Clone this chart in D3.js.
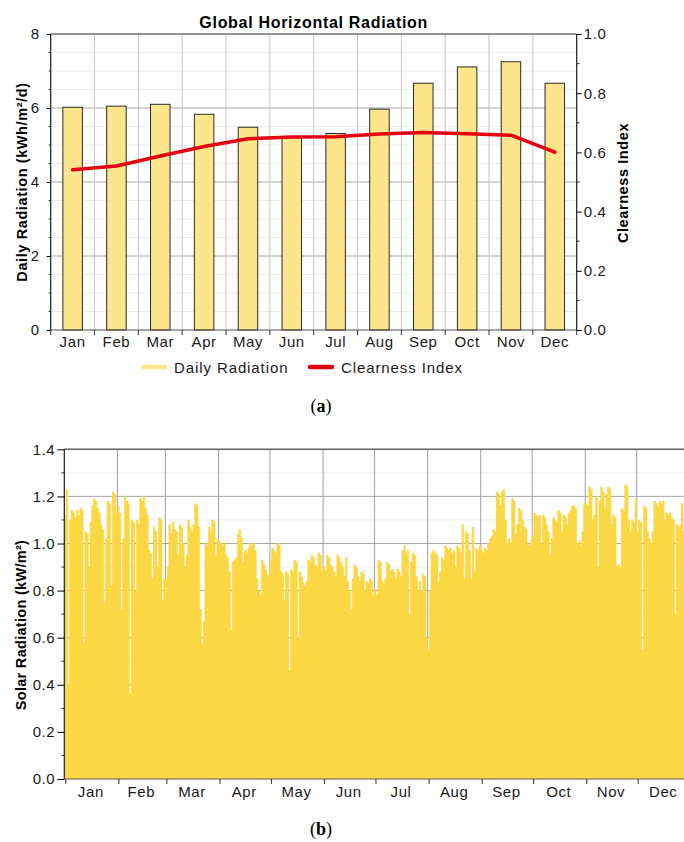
<!DOCTYPE html>
<html>
<head>
<meta charset="utf-8">
<script src="https://cdn.jsdelivr.net/npm/d3@7"></script>
<style>
  body { margin: 0; background: #fff; }
  svg { display: block; font-family: "Liberation Sans", Arial, sans-serif; }
  .tick text { font-size: 15px; fill: #1a1a1a; letter-spacing: 0.6px; }
  .domain { display: none; }
</style>
</head>
<body>
<div class="svg-container"></div>
<script>
var width = 684;
var height = 842;

// chart (a): monthly values
var months = ["Jan", "Feb", "Mar", "Apr", "May", "Jun", "Jul", "Aug", "Sep", "Oct", "Nov", "Dec"];
var dailyRadiation = [6.02, 6.05, 6.10, 5.83, 5.48, 5.20, 5.31, 5.97, 6.67, 7.11, 7.25, 6.67];
var clearnessIndex = [0.541, 0.554, 0.588, 0.620, 0.646, 0.652, 0.653, 0.662, 0.667, 0.663, 0.658, 0.601];
var legendLabels = ["Daily Radiation", "Clearness Index"];

// chart (b): daily peak solar radiation (kW/m2), read per month
var peakJan = [1.12, 1.23, 0.40, 1.10, 1.14, 1.13, 1.11, 1.14, 1.12, 1.15, 1.14, 0.58, 1.05, 1.04, 0.90, 1.09,
               1.16, 1.19, 1.18, 1.15, 1.13, 1.08, 1.06, 0.75, 1.02, 1.18, 1.17, 0.82, 1.22, 1.21, 1.13];
var peakFeb = [1.16, 1.13, 0.72, 1.02, 1.20, 1.18, 1.17, 0.36, 1.10, 1.09, 0.80, 1.10, 1.08, 1.19,
               1.18, 1.20, 1.15, 1.12, 0.97, 0.96, 0.85, 1.07, 1.05, 0.90, 1.11, 1.10, 0.76, 0.85];
var peakMar = [0.85, 0.90, 1.08, 1.04, 1.09, 1.06, 1.05, 0.95, 1.08, 1.07, 1.00, 0.90, 0.95, 1.10, 1.07, 1.05,
               1.08, 1.17, 1.16, 1.07, 0.72, 0.57, 0.67, 1.00, 0.99, 1.07, 1.05, 1.10, 1.09, 0.95, 1.02];
var peakApr = [1.01, 1.00, 0.99, 1.00, 0.95, 0.94, 0.88, 0.63, 0.92, 0.93, 0.94, 1.04, 1.06, 1.02, 0.92,
               0.97, 0.96, 0.98, 1.00, 0.99, 1.00, 0.97, 0.85, 0.80, 0.78, 0.93, 0.91, 0.89, 0.87, 0.86];
var peakMay = [0.93, 0.98, 0.97, 0.96, 1.00, 0.99, 0.88, 0.87, 0.76, 0.88, 0.87, 0.46, 0.89, 0.88, 0.93, 0.92,
               0.60, 0.88, 0.86, 0.83, 0.82, 0.84, 0.93, 0.92, 0.95, 0.94, 0.91, 0.90, 0.96, 0.95, 0.88];
var peakJun = [0.90, 0.89, 0.95, 0.94, 0.91, 0.90, 0.88, 0.86, 0.95, 0.94, 0.92, 0.90, 0.86, 0.94, 0.84,
               0.80, 0.72, 0.85, 0.91, 0.90, 0.86, 0.84, 0.88, 0.87, 0.80, 0.84, 0.83, 0.85, 0.84, 0.78];
var peakJul = [0.80, 0.78, 0.93, 0.92, 0.84, 0.83, 0.85, 0.92, 0.91, 0.88, 0.89, 0.88, 0.85, 0.89, 0.88, 0.86,
               0.97, 0.99, 0.96, 0.97, 0.70, 0.92, 0.96, 0.95, 0.86, 0.80, 0.84, 0.80, 0.87, 0.86, 0.60];
var peakAug = [0.55, 0.80, 0.96, 0.97, 0.96, 0.95, 0.84, 0.88, 0.94, 0.93, 0.99, 0.98, 0.97, 0.98, 0.96, 0.97,
               0.90, 0.99, 0.98, 0.96, 1.08, 0.85, 1.05, 1.04, 0.97, 0.85, 1.07, 0.88, 0.98, 0.97, 0.99];
var peakSep = [0.97, 0.96, 0.98, 0.97, 1.00, 1.02, 1.03, 1.06, 1.05, 1.22, 1.21, 1.16, 1.22, 1.23, 1.10,
               1.00, 1.02, 1.00, 1.19, 1.18, 1.04, 1.08, 1.15, 1.14, 1.10, 1.07, 1.06, 1.00, 0.99, 1.01];
var peakOct = [1.03, 1.13, 1.12, 1.11, 1.12, 1.00, 1.12, 1.11, 1.08, 1.05, 0.95, 1.02, 1.11, 1.10, 1.09, 1.14,
               1.13, 1.05, 1.12, 1.11, 1.08, 1.13, 1.14, 1.16, 1.16, 1.15, 1.00, 1.01, 0.99, 1.05, 1.17];
var peakNov = [1.17, 1.16, 1.24, 1.23, 1.10, 1.12, 1.20, 0.90, 1.18, 1.24, 1.22, 1.15, 1.21, 1.24, 1.23,
               1.08, 1.12, 1.11, 0.90, 0.91, 0.90, 1.15, 1.14, 1.25, 1.24, 1.10, 1.05, 1.10, 1.09, 1.19];
var peakDec = [1.05, 1.10, 1.09, 0.55, 1.16, 1.15, 1.05, 1.02, 1.00, 1.05, 1.18, 1.17, 1.16, 1.18, 1.17, 1.18,
               1.10, 1.13, 1.12, 1.13, 1.11, 1.10, 0.70, 1.08, 1.07, 1.08, 1.17, 1.05, 1.10, 1.12, 1.10];

var yearStart = new Date(2019, 0, 1);
var yearEnd = new Date(2020, 0, 1);

var svg = d3.select(".svg-container")
            .append("svg")
            .attr("width", width)
            .attr("height", height);

// ---------------- chart (a) ----------------
var pa = { left: 50.7, right: 576.7, top: 34, bottom: 330 };

var xa = d3.scaleBand().domain(months).range([pa.left, pa.right]);
var ya = d3.scaleLinear().domain([0, 8]).range([pa.bottom, pa.top]);
var yaR = d3.scaleLinear().domain([0, 1]).range([pa.bottom, pa.top]);

var ga = svg.append("g");

// minor horizontal grid
ga.selectAll(".minor-h")
  .data(d3.range(0.5, 8, 0.5).filter(function(v) { return v % 2 != 0; }))
  .enter().append("line")
  .attr("x1", pa.left).attr("x2", pa.right)
  .attr("y1", function(d) { return ya(d); })
  .attr("y2", function(d) { return ya(d); })
  .attr("stroke", "#ececec").attr("stroke-width", 1);

// major horizontal grid
ga.selectAll(".major-h")
  .data([2, 4, 6])
  .enter().append("line")
  .attr("x1", pa.left).attr("x2", pa.right)
  .attr("y1", function(d) { return ya(d); })
  .attr("y2", function(d) { return ya(d); })
  .attr("stroke", "#a8a8a8").attr("stroke-width", 1);

// vertical grid at month boundaries
ga.selectAll(".grid-v")
  .data(months.slice(1))
  .enter().append("line")
  .attr("x1", function(d) { return xa(d); })
  .attr("x2", function(d) { return xa(d); })
  .attr("y1", pa.top).attr("y2", pa.bottom)
  .attr("stroke", "#c4c4c4").attr("stroke-width", 1);

// bars
var barW = xa.bandwidth() * 0.445;
ga.selectAll(".bar")
  .data(dailyRadiation)
  .enter().append("rect")
  .attr("x", function(d, i) { return xa(months[i]) + xa.bandwidth() / 2 - barW / 2; })
  .attr("y", function(d) { return ya(d); })
  .attr("width", barW)
  .attr("height", function(d) { return ya(0) - ya(d); })
  .attr("fill", "#fde58b")
  .attr("stroke", "#2a2a2a")
  .attr("stroke-width", 1);

// clearness line
var ciLine = d3.line()
  .x(function(d, i) { return xa(months[i]) + xa.bandwidth() / 2; })
  .y(function(d) { return yaR(d); });

ga.append("path")
  .datum(clearnessIndex)
  .attr("fill", "none")
  .attr("stroke", "#e30010")
  .attr("stroke-width", 3.5)
  .attr("stroke-linejoin", "round")
  .attr("stroke-linecap", "round")
  .attr("d", ciLine);

// frame
ga.append("line").attr("x1", pa.left).attr("x2", pa.right)
  .attr("y1", pa.top).attr("y2", pa.top)
  .attr("stroke", "#707070").attr("stroke-width", 1.5);
ga.append("line").attr("x1", pa.left).attr("x2", pa.right)
  .attr("y1", pa.bottom).attr("y2", pa.bottom)
  .attr("stroke", "#505050").attr("stroke-width", 1.2);
ga.append("line").attr("x1", pa.left).attr("x2", pa.left)
  .attr("y1", pa.top).attr("y2", pa.bottom)
  .attr("stroke", "#1a1a1a").attr("stroke-width", 1.2);
ga.append("line").attr("x1", pa.right).attr("x2", pa.right)
  .attr("y1", pa.top).attr("y2", pa.bottom)
  .attr("stroke", "#1a1a1a").attr("stroke-width", 1.2);

// left axis
ga.append("g")
  .attr("transform", "translate(" + pa.left + ",0)")
  .call(d3.axisLeft(ya).tickValues([0, 2, 4, 6, 8]).tickFormat(d3.format("d")).tickSize(4).tickPadding(7));
ga.selectAll(".minor-l")
  .data(d3.range(0.5, 8, 0.5).filter(function(v) { return v % 2 != 0; }))
  .enter().append("line")
  .attr("x1", pa.left - 2).attr("x2", pa.left)
  .attr("y1", function(d) { return ya(d); })
  .attr("y2", function(d) { return ya(d); })
  .attr("stroke", "#333");

// right axis
ga.append("g")
  .attr("transform", "translate(" + pa.right + ",0)")
  .call(d3.axisRight(yaR).tickValues([0, 0.2, 0.4, 0.6, 0.8, 1.0]).tickFormat(d3.format(".1f")).tickSize(5).tickPadding(2));
ga.selectAll(".minor-r")
  .data([0.1, 0.3, 0.5, 0.7, 0.9])
  .enter().append("line")
  .attr("x1", pa.right).attr("x2", pa.right + 3)
  .attr("y1", function(d) { return yaR(d); })
  .attr("y2", function(d) { return yaR(d); })
  .attr("stroke", "#333");

// bottom axis
ga.append("g")
  .attr("transform", "translate(0," + pa.bottom + ")")
  .call(d3.axisBottom(xa).tickSize(0).tickPadding(6));
ga.selectAll(".tick-b")
  .data(months.concat(["end"]))
  .enter().append("line")
  .attr("x1", function(d, i) { return pa.left + i * xa.step(); })
  .attr("x2", function(d, i) { return pa.left + i * xa.step(); })
  .attr("y1", pa.bottom).attr("y2", pa.bottom + 5)
  .attr("stroke", "#333");

// title + labels
svg.append("text")
  .attr("x", (pa.left + pa.right) / 2).attr("y", 28)
  .attr("text-anchor", "middle")
  .style("font-size", "16px").style("font-weight", "bold")
  .attr("letter-spacing", 0.7)
  .text("Global Horizontal Radiation");

svg.append("text")
  .attr("transform", "translate(27," + (pa.top + pa.bottom) / 2 + ") rotate(-90)")
  .attr("text-anchor", "middle")
  .style("font-size", "14.5px").style("font-weight", "bold")
  .attr("letter-spacing", 0.6)
  .text("Daily Radiation (kWh/m\u00b2/d)");

svg.append("text")
  .attr("transform", "translate(628," + 183 + ") rotate(-90)")
  .attr("text-anchor", "middle")
  .style("font-size", "14.5px").style("font-weight", "bold")
  .attr("letter-spacing", 0.6)
  .text("Clearness Index");

// legend
var legendColors = ["#fde58b", "#e30010"];
var legendX = [143, 310];
var legend = svg.append("g");
legend.selectAll(".lg-line")
  .data(legendLabels)
  .enter().append("line")
  .attr("x1", function(d, i) { return legendX[i]; })
  .attr("x2", function(d, i) { return legendX[i] + 22; })
  .attr("y1", 367).attr("y2", 367)
  .attr("stroke", function(d, i) { return legendColors[i]; })
  .attr("stroke-width", 4.5)
  .attr("stroke-linecap", "round");
legend.selectAll(".lg-text")
  .data(legendLabels)
  .enter().append("text")
  .attr("x", function(d, i) { return legendX[i] + 31; })
  .attr("y", 372.5)
  .style("font-size", "15px")
  .attr("letter-spacing", 0.9)
  .attr("fill", "#1a1a1a")
  .text(function(d) { return d; });

// caption (a)
var capA = svg.append("text").attr("x", 321).attr("y", 412).attr("text-anchor", "middle")
  .style("font-family", "'Liberation Serif', 'DejaVu Serif', serif").style("font-size", "18px");
capA.append("tspan").text("(");
capA.append("tspan").style("font-weight", "bold").text("a");
capA.append("tspan").text(")");

// ---------------- chart (b) ----------------
var pb = { left: 64.3, right: 689.8, top: 449.3, bottom: 779 };

var peaks = [].concat(peakJan, peakFeb, peakMar, peakApr, peakMay, peakJun,
                      peakJul, peakAug, peakSep, peakOct, peakNov, peakDec);
var days = peaks.map(function(v, i) { return { date: d3.timeDay.offset(yearStart, i), value: v }; });

var xb = d3.scaleTime().domain([yearStart, yearEnd]).range([pb.left, pb.right]);
var yb = d3.scaleLinear().domain([0, 1.4]).range([pb.bottom, pb.top]);
var monthStarts = d3.timeMonth.range(yearStart, yearEnd);

var gb = svg.append("g");

gb.selectAll(".minor-hb")
  .data([0.1, 0.3, 0.5, 0.7, 0.9, 1.1, 1.3])
  .enter().append("line")
  .attr("x1", pb.left).attr("x2", width)
  .attr("y1", function(d) { return yb(d); })
  .attr("y2", function(d) { return yb(d); })
  .attr("stroke", "#ededed");

gb.selectAll(".major-hb")
  .data([0.2, 0.4, 0.6, 0.8, 1.0, 1.2])
  .enter().append("line")
  .attr("x1", pb.left).attr("x2", width)
  .attr("y1", function(d) { return yb(d); })
  .attr("y2", function(d) { return yb(d); })
  .attr("stroke", "#a8a8a8");

gb.selectAll(".grid-vb")
  .data(monthStarts.slice(1))
  .enter().append("line")
  .attr("x1", function(d) { return xb(d); })
  .attr("x2", function(d) { return xb(d); })
  .attr("y1", pb.top).attr("y2", pb.bottom)
  .attr("stroke", "#a0a0a0");

// daily peaks as a filled step area
var dayW = xb(d3.timeDay.offset(yearStart, 1)) - xb(yearStart);
var peakArea = d3.area()
  .curve(d3.curveStep)
  .x(function(d) { return xb(d.date) + dayW / 2; })
  .y0(yb(0))
  .y1(function(d) { return yb(d.value); });

gb.append("path")
  .datum(days)
  .attr("fill", "#fbd743")
  .attr("stroke", "#fbd743")
  .attr("stroke-width", 0.6)
  .attr("stroke-linejoin", "round")
  .attr("d", peakArea);

// frame
gb.append("line").attr("x1", pb.left).attr("x2", width)
  .attr("y1", pb.top).attr("y2", pb.top)
  .attr("stroke", "#606060").attr("stroke-width", 1.5);
gb.append("line").attr("x1", pb.left).attr("x2", width)
  .attr("y1", pb.bottom).attr("y2", pb.bottom)
  .attr("stroke", "#666").attr("stroke-width", 1.2);
gb.append("line").attr("x1", pb.left).attr("x2", pb.left)
  .attr("y1", pb.top).attr("y2", pb.bottom)
  .attr("stroke", "#1a1a1a").attr("stroke-width", 1.2);

// left axis
gb.append("g")
  .attr("transform", "translate(" + pb.left + ",0)")
  .call(d3.axisLeft(yb).tickValues([0, 0.2, 0.4, 0.6, 0.8, 1.0, 1.2, 1.4]).tickFormat(d3.format(".1f")).tickSize(7).tickPadding(2));
gb.selectAll(".minor-lb")
  .data([0.1, 0.3, 0.5, 0.7, 0.9, 1.1, 1.3])
  .enter().append("line")
  .attr("x1", pb.left - 3).attr("x2", pb.left)
  .attr("y1", function(d) { return yb(d); })
  .attr("y2", function(d) { return yb(d); })
  .attr("stroke", "#333");

// bottom axis: ticks at month starts, labels mid-month
gb.selectAll(".tick-bb")
  .data(monthStarts)
  .enter().append("line")
  .attr("x1", function(d) { return xb(d) + 1.5; })
  .attr("x2", function(d) { return xb(d) + 1.5; })
  .attr("y1", pb.bottom).attr("y2", pb.bottom + 5)
  .attr("stroke", "#333");
gb.selectAll(".mlabel")
  .data(monthStarts)
  .enter().append("text")
  .attr("x", function(d) { return (xb(d) + xb(d3.timeMonth.offset(d, 1))) / 2; })
  .attr("y", 797)
  .attr("text-anchor", "middle")
  .style("font-size", "15px")
  .attr("letter-spacing", 0.6)
  .attr("fill", "#1a1a1a")
  .text(function(d, i) { return months[i]; });

svg.append("text")
  .attr("transform", "translate(26," + 625 + ") rotate(-90)")
  .attr("text-anchor", "middle")
  .style("font-size", "14.5px").style("font-weight", "bold")
  .attr("letter-spacing", 0.3)
  .text("Solar Radiation (kW/m\u00b2)");

var capB = svg.append("text").attr("x", 321).attr("y", 835).attr("text-anchor", "middle")
  .style("font-family", "'Liberation Serif', 'DejaVu Serif', serif").style("font-size", "18px");
capB.append("tspan").text("(");
capB.append("tspan").style("font-weight", "bold").text("b");
capB.append("tspan").text(")");
</script>
</body>
</html>
